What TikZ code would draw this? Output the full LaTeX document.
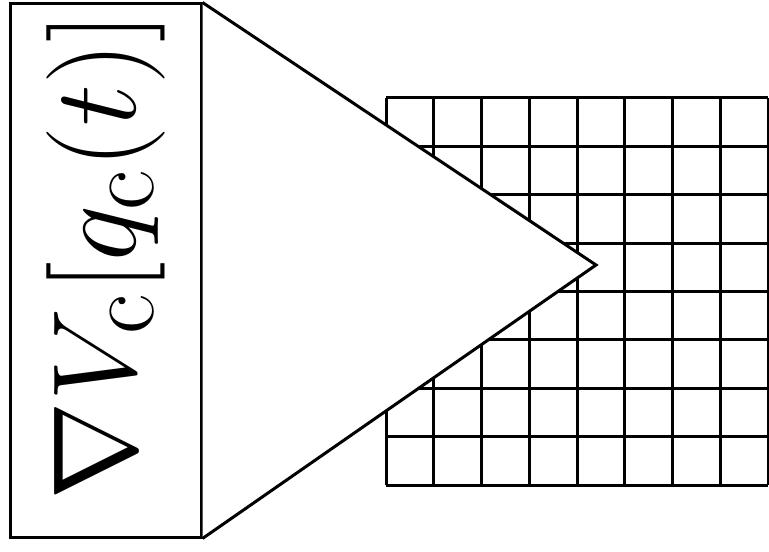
\documentclass[tikz,border=0pt]{standalone}
\usepackage{amsmath,amssymb}
\usepackage{tikz}

\begin{document}
\begin{tikzpicture}[x=0.5pt,y=0.5pt,line width=1.5pt]
        \useasboundingbox (0,0) rectangle (769,551);
        % lattice
        \begin{scope}[shift={(386,66)}]
            \foreach \i in {0,...,8} {
                \draw (\i*47.75,0) -- (\i*47.75,387);
                \draw (0,\i*48.375) -- (382,\i*48.375);
              }
        \end{scope}
        % label box and beam
        \node[draw,minimum width=95.5pt,minimum height=266.5pt,inner sep=0pt] (box) at (105.5,280.5) {};
        \coordinate (apex) at (596,286);
        \draw[fill=white,line join=miter] (box.north east) -- (apex) -- (box.south east);
        \node[rotate=90,scale=2.38,inner sep=0pt,font=\Huge] (grad) at (106,294.5) {$\nabla V_{\mathrm{c}}[q_{\mathrm{c}}(t)]$};
      \end{tikzpicture}
\end{document}
